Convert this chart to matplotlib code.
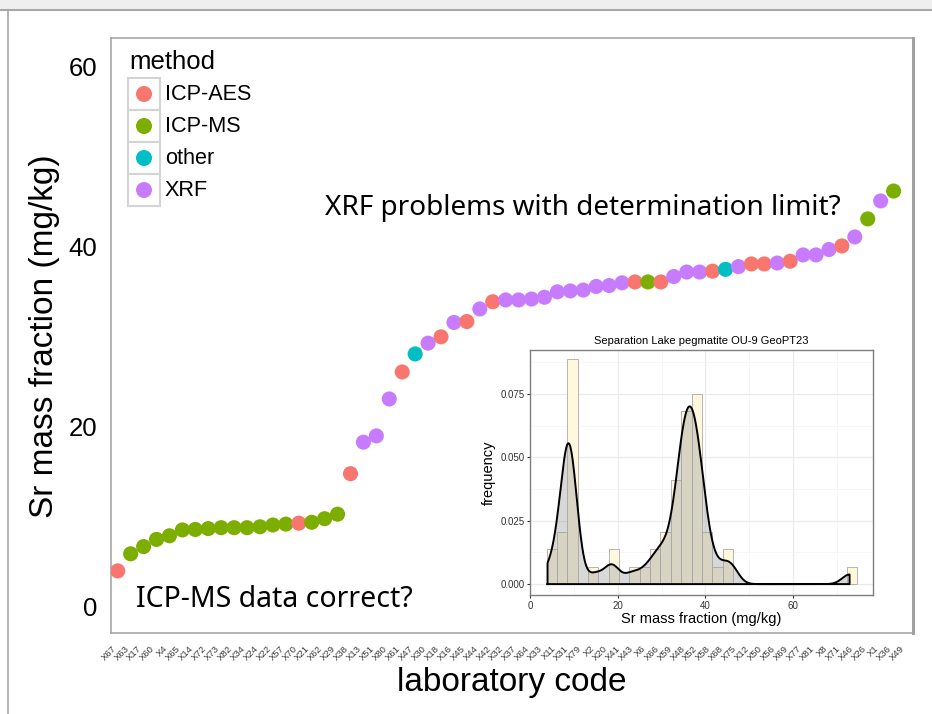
import numpy as np
import matplotlib
matplotlib.use("Agg")
import matplotlib.pyplot as plt
from matplotlib.patches import Rectangle, Circle

plt.rcParams['font.family'] = ['Liberation Sans', 'DejaVu Sans']

# ---------------- data ----------------
lab_codes = ["X67", "X63", "X17", "X60", "X4", "X65", "X14", "X72", "X73", "X82",
             "X34", "X24", "X22", "X57", "X70", "X21", "X62", "X29", "X38", "X13",
             "X51", "X80", "X61", "X47", "X30", "X18", "X16", "X45", "X44", "X42",
             "X32", "X37", "X64", "X33", "X11", "X31", "X79", "X2", "X20", "X41",
             "X43", "X6", "X66", "X59", "X48", "X52", "X58", "X68", "X75", "X12",
             "X50", "X56", "X69", "X77", "X81", "X8", "X71", "X46", "X26", "X1",
             "X36", "X49"]

sr_values = [4.0, 5.9, 6.7, 7.5, 7.9, 8.55, 8.6, 8.7, 8.8, 8.8,
             8.8, 8.9, 9.1, 9.2, 9.3, 9.4, 9.8, 10.3, 14.8, 18.3,
             19.0, 23.1, 26.1, 28.1, 29.3, 30.0, 31.6, 31.7, 33.1, 33.9,
             34.1, 34.1, 34.2, 34.4, 35.0, 35.1, 35.2, 35.6, 35.7, 36.0,
             36.1, 36.1, 36.1, 36.7, 37.2, 37.2, 37.3, 37.5, 37.8, 38.1,
             38.1, 38.2, 38.4, 39.1, 39.1, 39.7, 40.1, 41.1, 43.1, 45.1,
             46.2, 72.9]

methods = ["ICP-AES"] + ["ICP-MS"] * 13 + ["ICP-AES"] + ["ICP-MS"] * 3 + [
    "ICP-AES", "XRF", "XRF", "XRF", "ICP-AES", "other", "XRF", "ICP-AES",
    "XRF", "ICP-AES", "XRF", "ICP-AES"] + ["XRF"] * 10 + [
    "ICP-AES", "ICP-MS", "ICP-AES", "XRF", "XRF", "XRF", "ICP-AES", "other",
    "XRF", "ICP-AES", "ICP-AES", "XRF", "ICP-AES", "XRF", "XRF", "XRF",
    "ICP-AES", "XRF", "ICP-MS", "XRF", "ICP-MS", "XRF"]

method_names = ["ICP-AES", "ICP-MS", "other", "XRF"]
method_colors = ["#F8766D", "#7CAE00", "#00BFC4", "#C77CFF"]

y_ticks = [0, 20, 40, 60]
inset_x_ticks = [0, 20, 40, 60]
inset_y_ticks = [0.0, 0.025, 0.05, 0.075]
inset_y_ticklabels = ["0.000", "0.025", "0.050", "0.075"]

hist_bin_start = 3.8
hist_bin_width = 2.36
hist_n_bins = 30
kde_bandwidth = 1.7

# ---------------- figure ----------------
W, H = 932, 714
fig = plt.figure(figsize=(W / 100, H / 100), dpi=100)
fig.patch.set_facecolor("white")


def fx(x):
    return x / W


def fy(y):
    return 1 - y / H


# main axes
ax = fig.add_axes([fx(111), fy(633), (913 - 111) / W, (633 - 38) / H])
xpos = np.arange(1, len(sr_values) + 1)
col_map = dict(zip(method_names, method_colors))
pt_colors = [col_map[m] for m in methods]
ax.scatter(xpos, sr_values, s=118, c=pt_colors, linewidths=0, zorder=3)
ax.set_xlim(0.48, 62.5)
ax.set_ylim(-2.9, 63.2)
ax.set_yticks(y_ticks)
ax.set_yticklabels([str(t) for t in y_ticks], fontsize=18.5, color="black")
ax.set_xticks(xpos)
ax.set_xticklabels(lab_codes, rotation=45, ha="right", va="top",
                   fontsize=6.8, color="#3A3A3A")
ax.tick_params(axis="y", length=0, pad=10)
ax.tick_params(axis="x", length=0, pad=8)
for sp in ax.spines.values():
    sp.set_color("#A0A0A0")
    sp.set_linewidth(1.1)
ax.spines["right"].set_linewidth(2.2)

fig.text(fx(45), fy(336), "Sr mass fraction (mg/kg)", rotation=90,
         ha="center", va="center", fontsize=24)
fig.text(fx(512), fy(683), "laboratory code", ha="center", va="center",
         fontsize=24)

# overlay for decorations (pixel coords)
ov = fig.add_axes([0, 0, 1, 1], zorder=5)
ov.set_xlim(0, W)
ov.set_ylim(H, 0)
ov.axis("off")
ov.patch.set_alpha(0)

ov.add_patch(Rectangle((0, 0), W, 10, facecolor="#EFEFEF", edgecolor="none"))
ov.plot([0, W], [10, 10], color="#A8A8A8", lw=1.5)
ov.plot([8, 8], [10, H], color="#A8A8A8", lw=1.2)

# legend
ov.text(129, 62, "method", fontsize=18.5, va="center", ha="left")
for i, (nm, cl) in enumerate(zip(method_names, method_colors)):
    y0 = 78 + 32 * i
    ov.add_patch(Rectangle((128, y0), 32, 32, facecolor="white",
                           edgecolor="#D4D4D4", lw=1.5))
    ov.add_patch(Circle((144, y0 + 16), 8, facecolor=cl, edgecolor="none"))
    ov.text(165, y0 + 16, nm, fontsize=15.6, va="center", ha="left")


def fit_text(x, y, s, target_w, **kw):
    t = ov.text(x, y, s, **kw)
    fig.canvas.draw()
    w = t.get_window_extent().width
    t.set_fontsize(t.get_fontsize() * target_w / w)
    return t


fit_text(325, 215, "XRF problems with determination limit?", 518,
         fontsize=21, family=["Noto Sans", "DejaVu Sans"], va="baseline",
         ha="left")
fit_text(136, 607, "ICP-MS data correct?", 277,
         fontsize=21, family=["Noto Sans", "DejaVu Sans"], va="baseline",
         ha="left")

# ---------------- inset ----------------
ax_in = fig.add_axes([fx(530), fy(595), (873 - 530) / W, (595 - 350) / H],
                     zorder=6)
ax_in.set_facecolor("white")
edges = hist_bin_start + hist_bin_width * np.arange(hist_n_bins + 1)
ax_in.hist(sr_values, bins=edges, density=True, facecolor="#FFF8DC",
           edgecolor="#A9A9A9", linewidth=0.6, zorder=2)

vals = np.asarray(sr_values)
grid = np.linspace(vals.min(), vals.max(), 600)
dens = np.exp(-0.5 * ((grid[:, None] - vals[None, :]) / kde_bandwidth) ** 2).sum(axis=1)
dens /= (len(vals) * kde_bandwidth * np.sqrt(2 * np.pi))
ax_in.fill_between(grid, dens, 0, color="#9E9E9E", alpha=0.4, lw=0, zorder=3)
ax_in.plot(np.r_[grid[0], grid, grid[-1], grid[0]], np.r_[0, dens, 0, 0],
           color="black", lw=1.4, zorder=4)

ax_in.set_xlim(0.36, 78.24)
ax_in.set_ylim(-0.0043, 0.0924)
ax_in.set_xticks(inset_x_ticks)
ax_in.set_xticks([10, 30, 50, 70], minor=True)
ax_in.set_yticks(inset_y_ticks)
ax_in.set_yticklabels(inset_y_ticklabels)
ax_in.set_yticks([0.0125, 0.0375, 0.0625, 0.0875], minor=True)
ax_in.grid(which="major", color="#EBEBEB", lw=0.9, zorder=0)
ax_in.grid(which="minor", color="#F3F3F3", lw=0.5, zorder=0)
ax_in.set_axisbelow(True)
ax_in.tick_params(which="major", length=2.5, width=0.8, color="#333333",
                  labelsize=7, labelcolor="#333333", pad=1.5)
ax_in.tick_params(which="minor", length=0)
for sp in ax_in.spines.values():
    sp.set_color("#7F7F7F")
    sp.set_linewidth(1.0)
ax_in.set_title("Separation Lake pegmatite OU-9 GeoPT23", fontsize=8, pad=4)
ax_in.set_xlabel("Sr mass fraction (mg/kg)", fontsize=10.5, labelpad=1)
ax_in.set_ylabel("frequency", fontsize=10.5, labelpad=3)

fig.savefig("out.png", dpi=100)
